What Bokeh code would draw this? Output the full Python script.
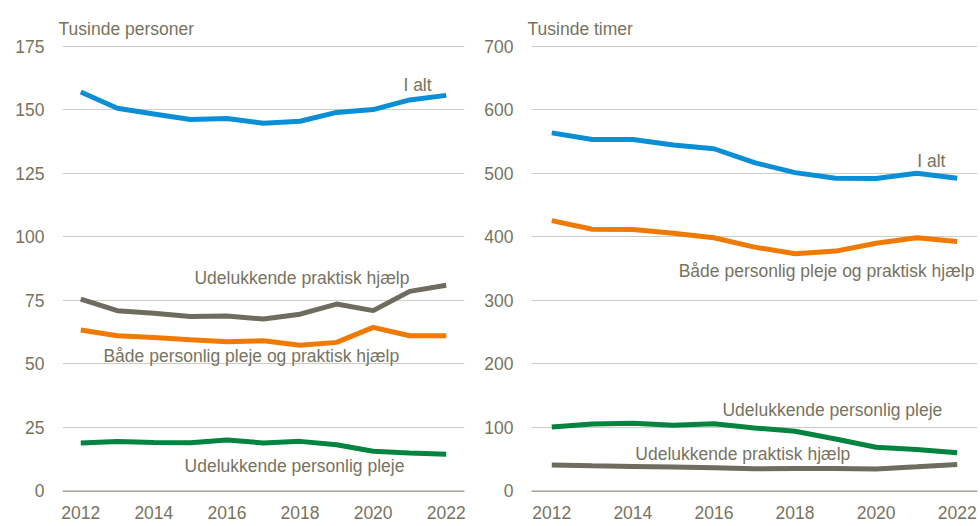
from bokeh.plotting import figure
from bokeh.models import Label, Range1d, FixedTicker
from bokeh.layouts import row
from bokeh.embed import file_html
from bokeh.resources import INLINE

# ---------------- data ----------------
years = [2012, 2013, 2014, 2015, 2016, 2017, 2018, 2019, 2020, 2021, 2022]
x_ticks = [2012, 2014, 2016, 2018, 2020, 2022]

# Left panel: thousand persons
persons_total = [157.0, 150.6, 148.4, 146.2, 146.6, 144.7, 145.5, 149.0, 150.1, 153.9, 155.7]
persons_practical = [75.4, 70.9, 69.9, 68.6, 68.8, 67.6, 69.5, 73.5, 70.9, 78.5, 80.9]
persons_both = [63.3, 61.0, 60.3, 59.4, 58.6, 59.0, 57.3, 58.4, 64.3, 61.0, 61.0]
persons_personal = [18.8, 19.3, 19.0, 18.9, 19.9, 18.8, 19.4, 18.1, 15.5, 14.8, 14.3]
left_ticks = [0, 25, 50, 75, 100, 125, 150, 175]

# Right panel: thousand hours
hours_total = [563.7, 553.4, 553.4, 544.5, 538.7, 516.8, 501.1, 492.3, 491.7, 500.1, 492.3]
hours_both = [425.5, 411.8, 411.4, 405.6, 398.4, 383.7, 373.3, 377.4, 389.9, 398.4, 392.6]
hours_personal = [100.2, 104.9, 106.0, 102.9, 105.5, 98.7, 93.5, 81.4, 68.4, 64.8, 59.5]
hours_practical = [40.2, 39.1, 38.1, 37.1, 36.0, 34.5, 35.0, 35.0, 34.0, 37.6, 41.3]
right_ticks = [0, 100, 200, 300, 400, 500, 600, 700]

label_total = "I alt"
label_practical = "Udelukkende praktisk hjælp"
label_both = "Både personlig pleje og praktisk hjælp"
label_personal = "Udelukkende personlig pleje"

# ---------------- style ----------------
FONT = "Liberation Sans"
TXT = "#77735F"
GRID = "#CFCDC3"
BLUE = "#0A8FD6"
ORANGE = "#F07A00"
GREY = "#6E6C5E"
GREEN = "#00843F"
FS = "17.5px"
LW = 5


def make_fig(width, ymax, ticks, title, mb_left, mb_right):
    p = figure(width=width, height=526, output_backend="svg", toolbar_location=None,
               x_range=Range1d(2011.5, 2022.5),
               y_range=Range1d(-ymax * 0.002, ymax * 1.002),
               min_border_left=mb_left, min_border_right=mb_right,
               min_border_top=45, min_border_bottom=35,
               background_fill_color="white", border_fill_color="white")
    p.outline_line_color = None
    p.xgrid.visible = False
    p.ygrid.grid_line_color = GRID
    p.ygrid.grid_line_width = 1
    p.yaxis.ticker = FixedTicker(ticks=ticks)
    p.xaxis.ticker = FixedTicker(ticks=x_ticks)
    for ax in (p.xaxis[0], p.yaxis[0]):
        ax.major_tick_in = 0
        ax.major_tick_out = 0
        ax.minor_tick_in = 0
        ax.minor_tick_out = 0
        ax.major_label_text_font = FONT
        ax.major_label_text_font_size = FS
        ax.major_label_text_color = TXT
    p.yaxis.axis_line_color = None
    p.xaxis.axis_line_color = "#A9A696"
    p.yaxis.major_label_standoff = 18
    p.xaxis.major_label_standoff = 14
    p.title.text = title
    p.title.text_font = FONT
    p.title.text_font_size = FS
    p.title.text_font_style = "normal"
    p.title.text_color = TXT
    p.title.align = "left"
    p.title.offset = -4
    p.title.standoff = 13
    return p


def add_label(p, x, y, text, align="left"):
    p.add_layout(Label(x=x, y=y, text=text, text_font=FONT, text_font_size=FS,
                       text_color=TXT, text_align=align, text_baseline="middle"))


# left panel
left = make_fig(478, 175, left_ticks, "Tusinde personer", 62, 14)
left.line(years, persons_total, line_color=BLUE, line_width=LW)
left.line(years, persons_practical, line_color=GREY, line_width=LW)
left.line(years, persons_both, line_color=ORANGE, line_width=LW)
left.line(years, persons_personal, line_color=GREEN, line_width=LW)
add_label(left, 2021.6, 159.7, label_total, "right")
add_label(left, 2015.11, 83.8, label_practical)
add_label(left, 2012.62, 53.1, label_both)
add_label(left, 2014.84, 9.8, label_personal)

# right panel
right = make_fig(501, 700, right_ticks, "Tusinde timer", 53, 2)
right.line(years, hours_total, line_color=BLUE, line_width=LW)
right.line(years, hours_both, line_color=ORANGE, line_width=LW)
right.line(years, hours_personal, line_color=GREEN, line_width=LW)
right.line(years, hours_practical, line_color=GREY, line_width=LW)
add_label(right, 2021.71, 519.4, label_total, "right")
add_label(right, 2015.13, 345.6, label_both)
add_label(right, 2016.21, 126.4, label_personal)
add_label(right, 2014.06, 57.5, label_practical)

layout = row(left, right)
open("out.html", "w").write(file_html(layout, INLINE))
